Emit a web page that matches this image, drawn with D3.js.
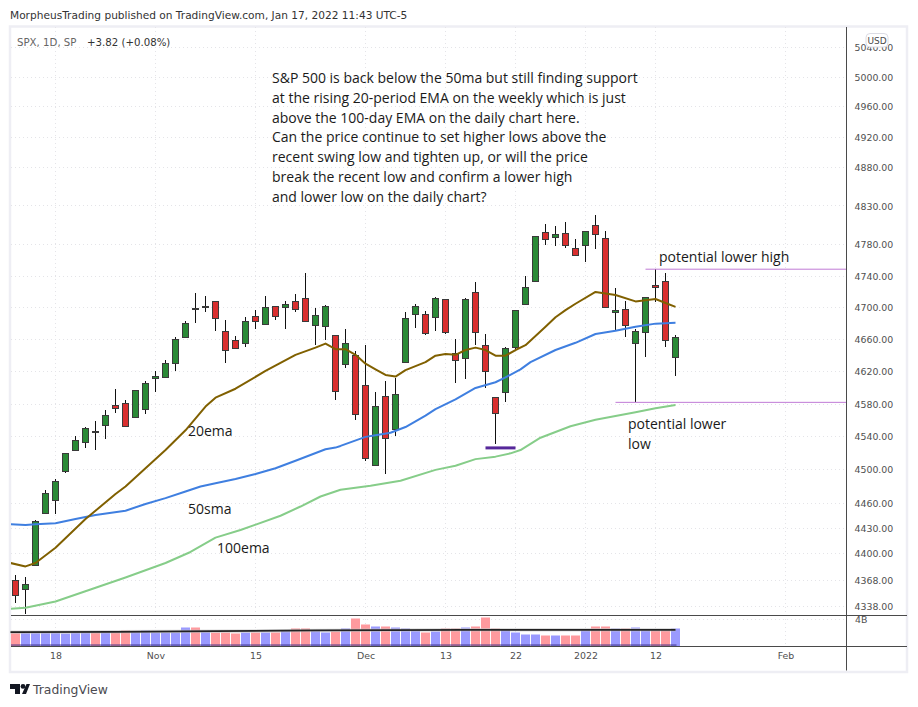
<!DOCTYPE html>
<html><head><meta charset="utf-8">
<script src="https://cdnjs.cloudflare.com/ajax/libs/d3/7.8.5/d3.min.js"></script>
<style>html,body{margin:0;padding:0;background:#fff}svg{display:block}</style>
</head><body><svg id="c" width="918" height="707"></svg>
<script>
const opens=[4368.31,4358.01,4386.75,4447.69,4463.72,4497.34,4524.42,4532.24,4546.12,4553.69,4578.69,4580.22,4562.84,4572.87,4610.62,4613.34,4630.65,4662.93,4699.26,4701.48,4707.25,4670.26,4659.39,4655.24,4689.30,4679.42,4701.50,4700.72,4708.44,4712.00,4678.48,4675.78,4664.63,4628.75,4640.25,4602.82,4504.73,4589.49,4548.37,4631.97,4690.86,4691.00,4687.64,4710.30,4642.99,4636.46,4719.13,4652.50,4587.90,4594.96,4650.36,4703.96,4733.99,4795.49,4788.64,4794.23,4775.21,4778.14,4804.51,4787.99,4693.39,4697.66,4655.34,4669.14,4728.59,4733.56,4637.99];
const highs=[4374.89,4372.87,4439.73,4475.82,4488.75,4520.40,4540.87,4551.44,4559.67,4572.62,4598.53,4584.57,4597.55,4608.08,4620.34,4635.15,4663.46,4683.00,4718.50,4714.92,4708.53,4684.85,4664.55,4688.47,4697.42,4714.95,4701.50,4708.80,4717.75,4743.83,4699.39,4702.87,4664.63,4672.95,4646.02,4652.94,4595.46,4608.03,4612.60,4694.04,4705.06,4695.26,4713.57,4710.30,4660.47,4712.60,4731.99,4666.70,4587.90,4651.14,4697.67,4740.74,4791.49,4807.02,4804.06,4808.93,4786.83,4796.64,4818.62,4797.70,4725.01,4707.95,4673.02,4714.13,4748.83,4744.13,4665.13];
const lows=[4342.09,4329.92,4386.75,4447.69,4447.47,4496.41,4524.40,4526.89,4524.00,4537.36,4569.17,4551.66,4562.84,4567.59,4595.06,4613.34,4621.19,4662.59,4681.32,4694.39,4670.87,4630.86,4648.31,4650.77,4672.86,4679.42,4684.41,4672.78,4694.22,4682.17,4652.66,4659.89,4585.43,4625.26,4560.00,4510.27,4504.73,4495.12,4540.51,4631.97,4674.52,4665.98,4670.24,4667.60,4606.52,4611.22,4652.94,4600.22,4531.10,4583.16,4645.53,4703.96,4733.99,4780.04,4778.08,4775.33,4765.75,4758.17,4774.27,4699.44,4671.26,4662.74,4582.24,4638.27,4706.71,4650.29,4614.75];
const closes=[4350.65,4363.80,4438.26,4471.37,4486.46,4519.63,4536.19,4549.78,4544.90,4566.48,4574.79,4551.68,4596.42,4605.38,4613.67,4630.65,4660.57,4680.06,4697.53,4701.70,4685.25,4646.71,4649.27,4682.85,4682.80,4700.90,4688.67,4704.54,4697.96,4682.94,4690.70,4701.46,4594.62,4655.27,4567.00,4513.04,4577.10,4538.43,4591.67,4686.75,4701.21,4667.45,4712.02,4668.97,4634.09,4709.85,4668.67,4620.64,4568.02,4649.23,4696.56,4725.79,4791.19,4786.35,4793.06,4778.73,4766.18,4796.56,4793.54,4700.58,4696.05,4677.03,4670.29,4713.07,4726.35,4659.03,4662.85];
const volumes=[2.07,2.07,2.07,2.07,2.07,1.83,2.07,2.07,2.07,2.07,2.07,2.37,2.17,2.37,2.07,2.07,2.07,2.67,2.67,2.17,2.07,2.07,1.83,2.07,2.07,2.07,2.07,2.37,2.57,2.57,2.27,2.07,2.17,2.57,4.05,3.16,2.86,2.86,2.67,2.57,2.27,2.07,2.17,2.57,2.57,2.72,2.86,4.20,2.57,2.42,1.98,1.68,1.68,1.53,1.53,1.53,1.53,2.37,2.86,2.86,2.57,2.57,2.72,2.37,2.37,2.37,2.57];
const volMaIdx=[-0.5,10,20,30,45,66];
const volMaVals=[2.05,2.1,2.2,2.3,2.4,2.4];
const ema20Idx=[-0.5,1,2,4,7,10,11,13,15,17,19,20,22,25,28,30,31,32,33,34,35,36,37,38,39,40,41,42,43,44,45,46,47,48,49,50,51,53,54,55,56,58,60,62,64,65,66];
const ema20Vals=[4389,4385,4389,4407,4441,4471,4480,4502,4524,4548,4577,4588,4599,4621,4641,4650,4655,4648,4648,4641,4630,4623,4616,4614,4622,4627,4632,4640,4642,4641,4647,4650,4647,4640,4640,4647,4653,4676,4688,4697,4705,4720,4716,4708,4711,4706,4701];
const sma50Idx=[-0.5,1,2,4,6,8,11,13,15,17,18.5,20,22,24,26,28,31,32,32.5,35,36,37.5,39,41,42,44,46,48,49,50.5,51.5,54,56,58,60,62,64,66];
const sma50Vals=[4435,4434,4435,4436,4441,4446,4451,4459,4466,4474,4480,4484,4489,4495,4502,4511,4525,4527,4529,4540,4542,4545,4552,4566,4574,4586,4600,4607,4613,4623,4632,4647,4656,4667,4671,4676,4680,4681];
const ema100Idx=[-0.5,1,4,7.5,11,15,17.5,20,22.5,26.5,28.5,30.5,32.5,35.5,38.5,42,44,46,48,49.5,50.5,52.5,55.5,58,62,64,66];
const ema100Vals=[4335.4,4336.6,4344,4358,4372,4389,4402,4419,4428,4445,4456,4468,4476,4481,4487,4500,4505,4513,4516,4520,4524,4539,4553,4561,4570,4575,4579];
const priceTicks=[5040,5000,4960,4920,4880,4830,4780,4740,4700,4660,4620,4580,4540,4500,4460,4430,4400,4368,4338];
const timeTickIdx=[4,14,24,35,43,50,57,64,77];
const timeTickLabels=["18","Nov","15","Dec","13","22","2022","12","Feb"];
const lowerHigh=4748.83, lowerLow=4582.24, swingMark=4526.6;
const noteLines=["S&P 500 is back below the 50ma but still finding support","at the rising 20-period EMA on the weekly which is just","above the 100-day EMA on the daily chart here.","Can the price continue to set higher lows above the","recent swing low and tighten up, or will the price","break the recent low and confirm a lower high","and lower low on the daily chart?"];

const L=11,R=846.5,T=27,PB=615.5,VB=646.5,B=671.5;
const svg=d3.select("#c");
const x=d3.scaleLinear().domain([0,66]).range([15.5,675.5]);
const y=d3.scaleLog().domain([4338,5000]).range([606.6,77]);
const yV=d3.scaleLinear().domain([0,4]).range([646,619]);
const line=(sx,sy)=>d3.line().x(d=>sx(d[0])).y(d=>sy(d[1]));
const zip=(a,b)=>a.map((v,i)=>[v,b[i]]);
const px=v=>Math.round(v-0.5)+0.5;

svg.append("defs").append("clipPath").attr("id","pane").append("rect").attr("x",L).attr("y",T).attr("width",R-L).attr("height",PB-T);

// frame
svg.append("rect").attr("x",10).attr("y",26.5).attr("width",897).attr("height",645.5).attr("fill","#fff").attr("stroke","#eeeef4").attr("stroke-width",2.5);

// grid
const grid=svg.append("g").attr("stroke","#e4e4e8").attr("stroke-dasharray","1 3").attr("stroke-width",1);
grid.selectAll("line.h").data(priceTicks).join("line").attr("x1",L).attr("x2",R).attr("y1",d=>px(y(d))).attr("y2",d=>px(y(d)));
grid.selectAll("line.v").data(timeTickIdx).join("line").attr("x1",d=>x(d)).attr("x2",d=>x(d)).attr("y1",T).attr("y2",VB);
grid.append("line").attr("x1",L).attr("x2",R).attr("y1",619.5).attr("y2",619.5);

// volume
const vol=svg.append("g");
vol.selectAll("rect").data(volumes).join("rect")
 .attr("x",(d,i)=>x(i)-4.5).attr("width",9).attr("y",d=>px(yV(d))).attr("height",d=>646-px(yV(d)))
 .attr("fill",(d,i)=>closes[i]>=opens[i]?"#9a9aff":"#ff9a9e");
svg.append("rect").attr("x",L).attr("width",x(66)+1-L).attr("y",yV(0.27)).attr("height",yV(0)-yV(0.27)).attr("fill","#3c2f86").attr("opacity",0.55);
svg.append("path").attr("d",line(x,yV)(zip(volMaIdx,volMaVals))).attr("fill","none").attr("stroke","#c8c8c8").attr("stroke-width",3.5).attr("opacity",0.6);
svg.append("path").attr("d",line(x,yV)(zip(volMaIdx,volMaVals))).attr("fill","none").attr("stroke","#222").attr("stroke-width",1.8);

// candles
const pane=svg.append("g").attr("clip-path","url(#pane)");
const c=pane.append("g");
c.selectAll("line").data(opens).join("line")
 .attr("x1",(d,i)=>x(i)).attr("x2",(d,i)=>x(i)).attr("y1",(d,i)=>Math.round(y(highs[i]))).attr("y2",(d,i)=>Math.round(y(lows[i])))
 .attr("stroke","#111").attr("stroke-width",1);
c.selectAll("rect").data(opens).join("rect")
 .attr("x",(d,i)=>x(i)-3).attr("width",6)
 .attr("y",(d,i)=>px(y(Math.max(opens[i],closes[i]))))
 .attr("height",(d,i)=>Math.max(1,Math.round(y(Math.min(opens[i],closes[i]))-y(Math.max(opens[i],closes[i])))))
 .attr("fill",(d,i)=>closes[i]>=opens[i]?"#2a8a36":"#d92f2f")
 .attr("stroke","#3a3a3a").attr("stroke-width",1);

// moving averages
[[ema100Idx,ema100Vals,"#86cd89"],[sma50Idx,sma50Vals,"#3f7fe0"],[ema20Idx,ema20Vals,"#806000"]].forEach(([a,b,col])=>{
 pane.append("path").attr("d",line(x,y)(zip(a,b))).attr("fill","none").attr("stroke",col).attr("stroke-width",2).attr("stroke-linejoin","round");
});

// drawn levels
svg.append("line").attr("x1",x(63)).attr("x2",R).attr("y1",y(lowerHigh)).attr("y2",y(lowerHigh)).attr("stroke","#c07ad6").attr("stroke-width",1);
svg.append("line").attr("x1",x(60)).attr("x2",R).attr("y1",y(lowerLow)).attr("y2",y(lowerLow)).attr("stroke","#c07ad6").attr("stroke-width",1);
svg.append("line").attr("x1",x(47)).attr("x2",x(50)).attr("y1",y(swingMark)).attr("y2",y(swingMark)).attr("stroke","#56289a").attr("stroke-width",3);

// panes lines
const rules=svg.append("g").attr("stroke","#4a4a4a").attr("stroke-width",1);
rules.append("line").attr("x1",L).attr("x2",907).attr("y1",PB).attr("y2",PB);
rules.append("line").attr("x1",L).attr("x2",907).attr("y1",VB).attr("y2",VB);
rules.append("line").attr("x1",R).attr("x2",R).attr("y1",T).attr("y2",B-1);

// axes
const sysF="'DejaVu Sans'";
const ay=svg.append("g").attr("transform",`translate(${R},0)`).call(d3.axisRight(y).tickValues(priceTicks).tickFormat(d3.format(".2f")).tickSize(0).tickPadding(8));
const ax=svg.append("g").attr("transform",`translate(0,${VB})`).call(d3.axisBottom(x).tickValues(timeTickIdx).tickFormat((d,i)=>timeTickLabels[i]).tickSize(0).tickPadding(6));
[ay,ax].forEach(g=>{g.select(".domain").remove();g.selectAll("text").attr("font-family",sysF).attr("font-size",9.4).attr("fill","#4f4f4f");});
svg.append("text").attr("x",855).attr("y",623).attr("font-family",sysF).attr("font-size",9.4).attr("fill","#4f4f4f").text("4B");

// USD badge
svg.append("rect").attr("x",866).attr("y",33.5).attr("width",22).attr("height",13.5).attr("rx",4).attr("fill","#fff").attr("stroke","#dcdce4");
svg.append("text").attr("x",877).attr("y",44).attr("text-anchor","middle").attr("font-family",sysF).attr("font-size",9).attr("fill","#4a4a4a").text("USD");

// header and legend
svg.append("text").attr("x",10).attr("y",19).attr("font-family",sysF).attr("font-size",10.6).attr("fill","#333").text("MorpheusTrading published on TradingView.com, Jan 17, 2022 11:43 UTC-5");
svg.append("text").attr("x",17).attr("y",46).attr("font-family",sysF).attr("font-size",10.2).attr("fill","#666").text("SPX, 1D, SP");
svg.append("text").attr("x",87).attr("y",46).attr("font-family",sysF).attr("font-size",10.2).attr("fill","#333").text("+3.82 (+0.08%)");

// annotations
const noteF="'Open Sans'";
const label=(tx,ty,t)=>svg.append("text").attr("x",tx).attr("y",ty).attr("font-family",noteF).attr("font-size",14).attr("fill","#1a1a1a").text(t);
noteLines.forEach((t,i)=>label(272,83+i*19.75,t));
label(659,262,"potential lower high");
label(628,429,"potential lower");
label(628,449,"low");
label(188,436,"20ema");
label(188,514,"50sma");
label(217,553,"100ema");

// logo
svg.append("path").attr("fill","#131722").attr("d","M10 684h10v10h-5v-5h-5zM21 684h5l-2.5 0zM26.5 684H30l-4 10h-4z");
svg.append("circle").attr("cx",23).attr("cy",686.4).attr("r",2.4).attr("fill","#131722");
svg.append("text").attr("x",33).attr("y",694).attr("font-family",sysF).attr("font-size",12.4).attr("fill","#4a4a4f").text("TradingView");
</script></body></html>
